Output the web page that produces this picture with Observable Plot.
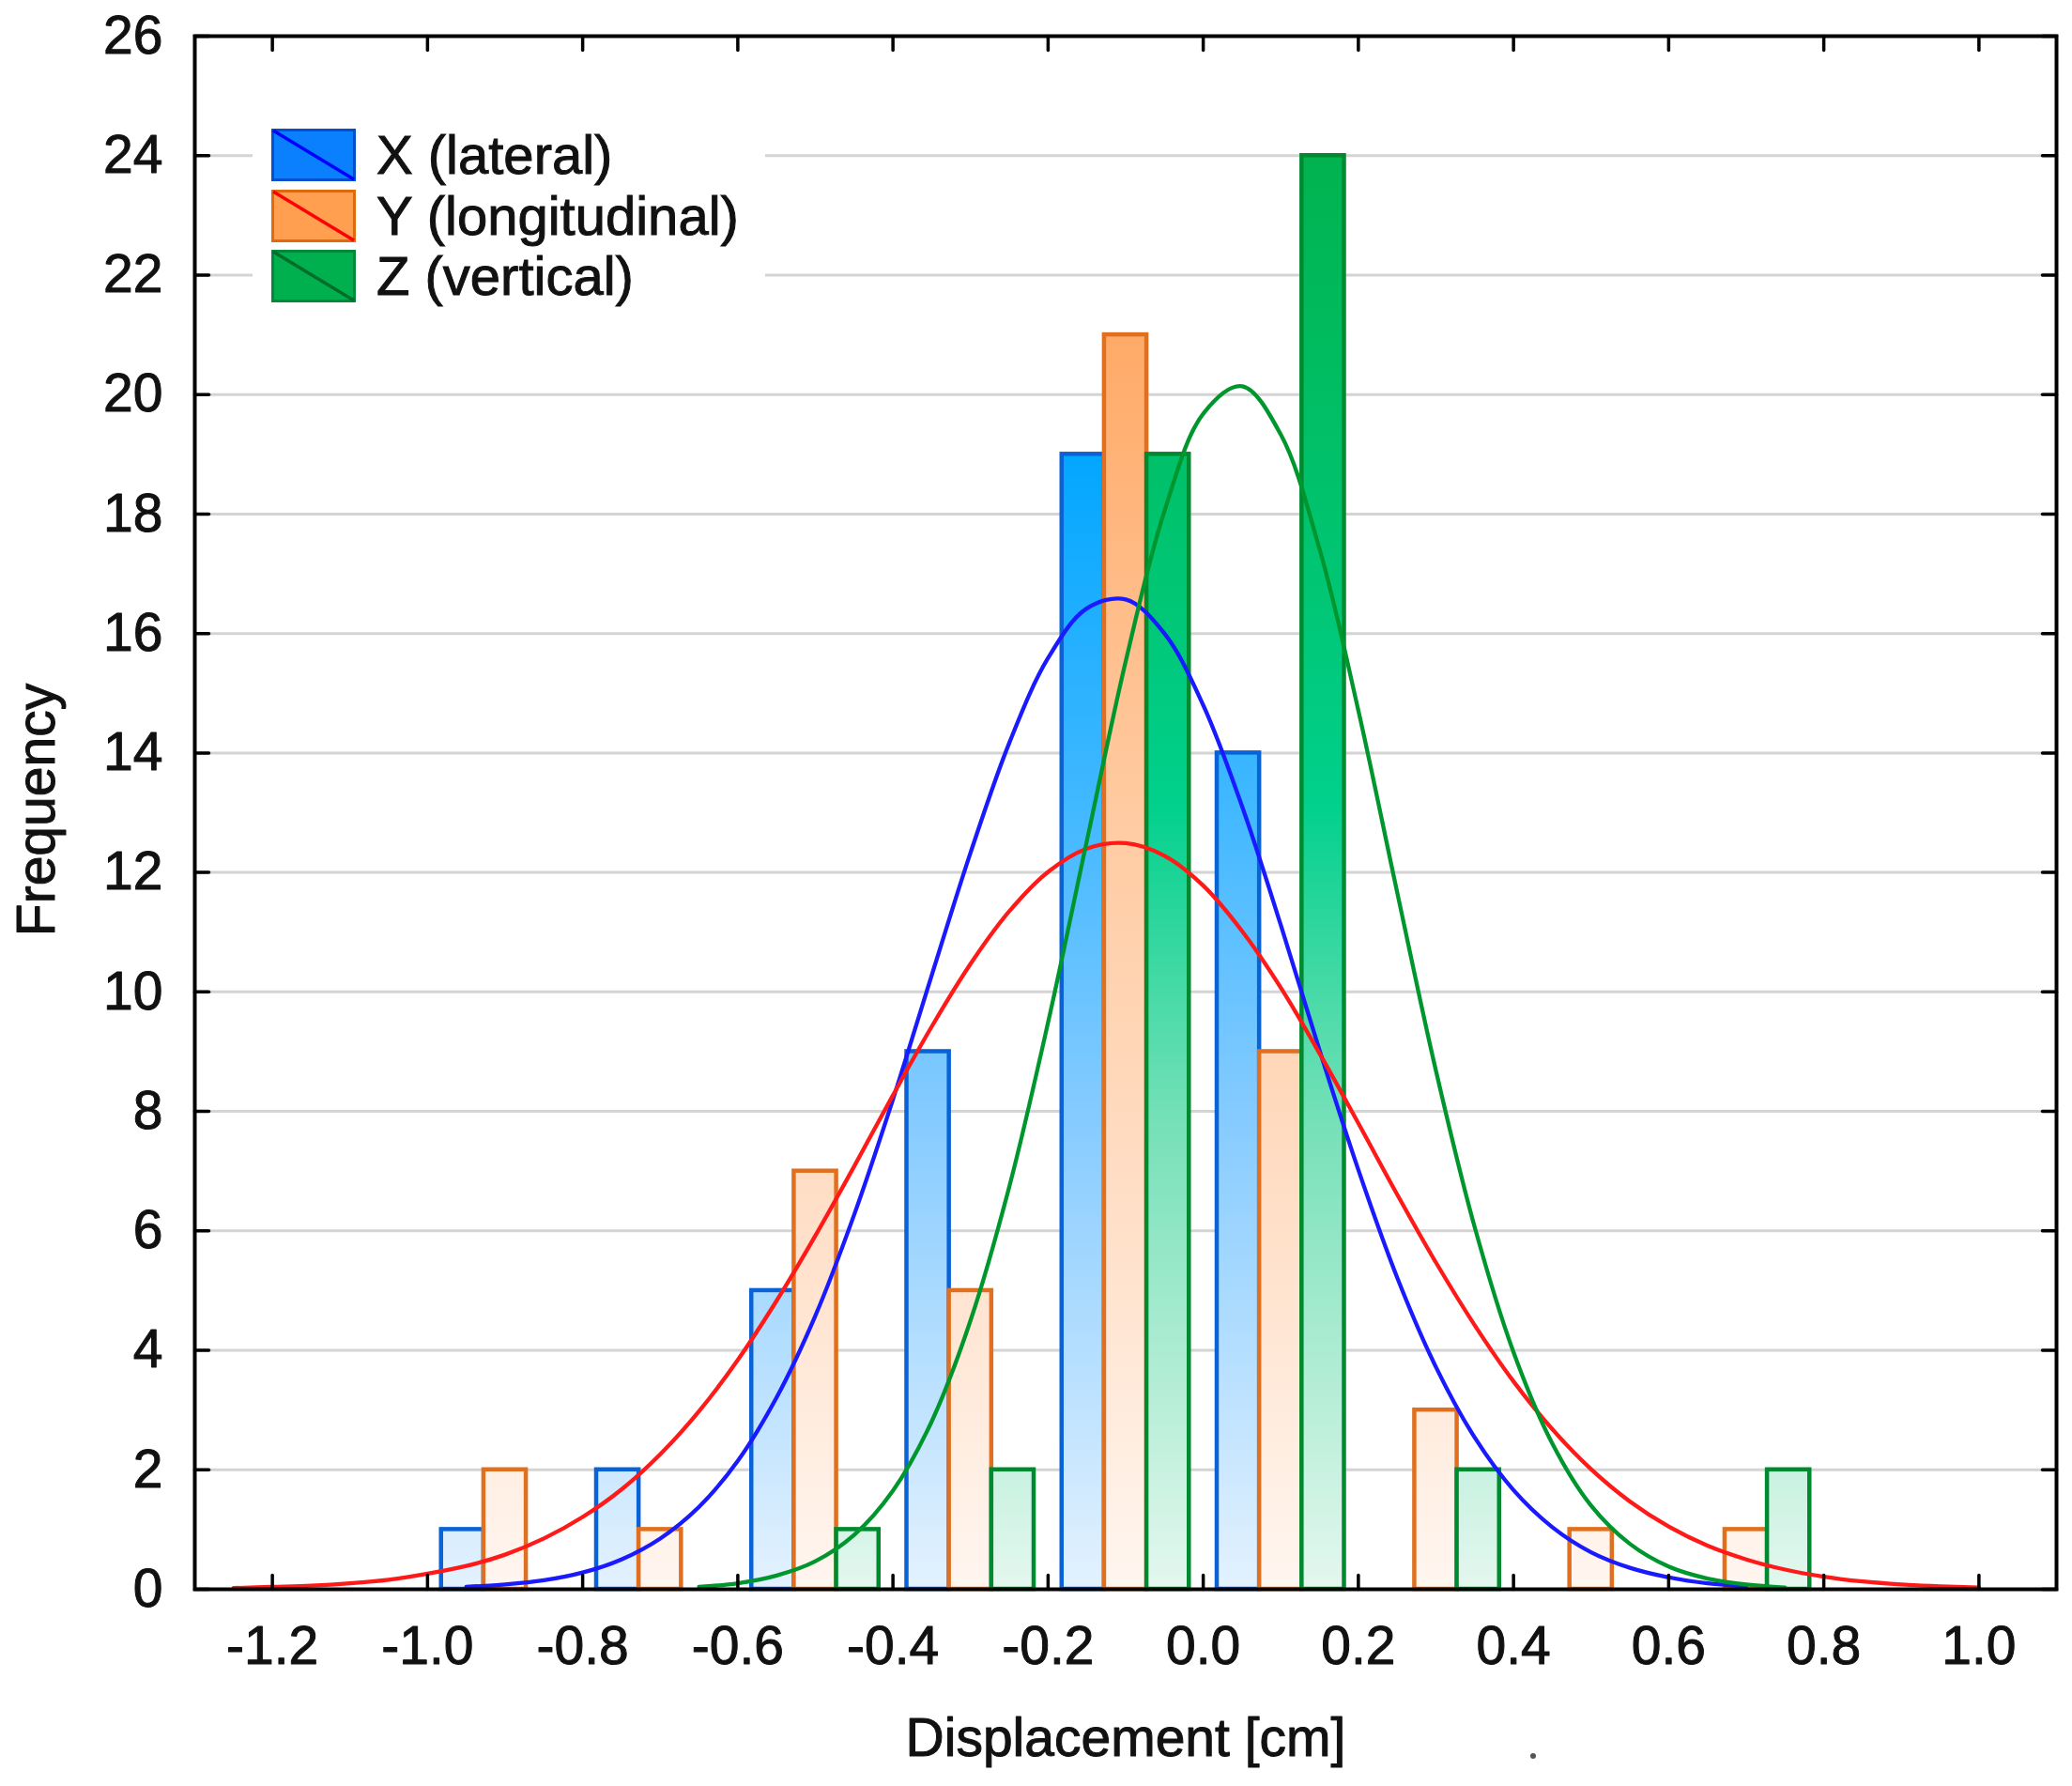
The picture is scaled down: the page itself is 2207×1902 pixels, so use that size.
<!DOCTYPE html>
<html><head><meta charset="utf-8">
<script src="https://cdn.jsdelivr.net/npm/d3@7"></script>
<script src="https://cdn.jsdelivr.net/npm/@observablehq/plot@0.6"></script>
<style>
body{margin:0;background:#fff;}
#wrap{position:relative;width:2207px;height:1902px;font-family:"Liberation Sans",Arial,sans-serif;}
#legend{position:absolute;left:269px;top:128px;width:546px;height:206px;background:#fff;}
.row{position:absolute;left:20px;height:56px;display:flex;align-items:center;}
.row svg{width:90px;height:56px;margin-right:22px;display:block}
.row span{font-size:58px;color:#111;line-height:1;white-space:nowrap;-webkit-text-stroke:1px #111;}
#speck{position:absolute;left:1630px;top:1867px;width:6px;height:6px;border-radius:3px;background:#555;}
</style></head>
<body><div id="wrap"><div id="chart"></div><div id="legend"></div><div id="speck"></div></div>
<script>
// ---- data ----
const binCenters = [-0.9, -0.7, -0.5, -0.3, -0.1, 0.1, 0.3, 0.5, 0.7];
const countsX = [1, 2, 5, 9, 19, 14, 0, 0, 0];
const countsY = [2, 1, 7, 5, 21, 9, 3, 1, 1];
const countsZ = [0, 0, 1, 2, 19, 24, 2, 0, 2];

const seriesNames = ["X (lateral)", "Y (longitudinal)", "Z (vertical)"];

const fitXx = [-0.95,-0.90,-0.85,-0.80,-0.75,-0.70,-0.65,-0.60,-0.55,-0.50,-0.45,-0.40,-0.35,-0.30,-0.25,-0.20,-0.15,-0.10,-0.05,0.00,0.05,0.10,0.15,0.20,0.25,0.30,0.35,0.40,0.45,0.50,0.55,0.60,0.65,0.70];
const fitXy = [0.04,0.08,0.15,0.28,0.50,0.85,1.38,2.15,3.21,4.58,6.27,8.20,10.28,12.33,14.17,15.59,16.42,16.57,16.00,14.80,13.11,11.12,9.02,7.02,5.22,3.72,2.54,1.66,1.04,0.62,0.36,0.20,0.10,0.05];

const fitYx = [-1.25,-1.20,-1.15,-1.10,-1.05,-1.00,-0.95,-0.90,-0.85,-0.80,-0.75,-0.70,-0.65,-0.60,-0.55,-0.50,-0.45,-0.40,-0.35,-0.30,-0.25,-0.20,-0.15,-0.10,-0.05,0.00,0.05,0.10,0.15,0.20,0.25,0.30,0.35,0.40,0.45,0.50,0.55,0.60,0.65,0.70,0.75,0.80,0.85,0.90,0.95,1.00];
const fitYy = [0.02,0.04,0.06,0.10,0.16,0.26,0.39,0.58,0.85,1.21,1.67,2.26,2.98,3.84,4.83,5.92,7.08,8.27,9.42,10.47,11.35,12.01,12.40,12.49,12.28,11.78,11.02,10.07,8.97,7.80,6.61,5.47,4.42,3.48,2.68,2.01,1.47,1.05,0.73,0.50,0.33,0.21,0.13,0.08,0.05,0.03];

const fitZx = [-0.65,-0.60,-0.55,-0.50,-0.45,-0.40,-0.35,-0.30,-0.25,-0.20,-0.15,-0.10,-0.05,0.00,0.05,0.10,0.15,0.20,0.25,0.30,0.35,0.40,0.45,0.50,0.55,0.60,0.65,0.70,0.75];
const fitZy = [0.04,0.10,0.23,0.47,0.91,1.65,2.81,4.50,6.74,9.49,12.53,15.53,18.05,19.68,20.14,19.33,17.41,14.71,11.67,8.68,6.06,3.97,2.44,1.40,0.76,0.38,0.18,0.08,0.03];

const xTicks = [-1.2, -1.0, -0.8, -0.6, -0.4, -0.2, 0.0, 0.2, 0.4, 0.6, 0.8, 1.0];
const yTicks = [0, 2, 4, 6, 8, 10, 12, 14, 16, 18, 20, 22, 24, 26];
const xDomain = [-1.3, 1.1];
const yDomain = [0, 26];

// ---- styles ----
const barW = 0.2 * 0.82 / 3;
const strokes = ["#0a63d6", "#e07020", "#008a30"];
const curveColors = ["#1a1aff", "#ff1a1a", "#00962e"];
const gradStops = [
  [[0, "#0090ff"], [0.2, "#00a6ff"], [0.45, "#40b8ff"], [0.67, "#85cbff"], [1, "#e4f2fe"]],
  [[0, "#ff9a4a"], [0.125, "#ffaa68"], [0.45, "#ffcaa0"], [0.7, "#ffdcc2"], [1, "#fff6f0"]],
  [[0, "#00b34f"], [0.3, "#00c674"], [0.45, "#00d08c"], [0.67, "#74e0b8"], [1, "#e4f7ee"]]
];
const legendFill = ["#0a80ff", "#ff9f4f", "#00b04f"];
const legendBorder = ["#0050d0", "#e06a10", "#008a3a"];
const legendDiag = ["#0000ff", "#ff0000", "#006e2a"];

const counts = [countsX, countsY, countsZ];
const barData = counts.map((arr, k) =>
  binCenters.map((c, i) => ({c, k, n: arr[i]})).filter(d => d.n > 0));
const fits = [[fitXx, fitXy], [fitYx, fitYy], [fitZx, fitZy]].map(([xs, ys]) => xs.map((x, i) => ({x, y: ys[i]})));
const gridVals = yTicks.filter(v => v > 0 && v < 26);

const tickShape = {draw(ctx, l) { ctx.moveTo(0, 0); ctx.lineTo(0, -l); }};
const FS = 57;
const txt = {fontSize: FS, fill: "#111", stroke: "#111", strokeWidth: 1};

const chart = Plot.plot({
  width: 2207, height: 1902,
  marginLeft: 207, marginRight: 17, marginTop: 38, marginBottom: 210,
  style: {fontFamily: '"Liberation Sans", Arial, sans-serif', fontSize: FS + "px", color: "#111", background: "#fff"},
  x: {domain: xDomain, axis: null},
  y: {domain: yDomain, axis: null},
  marks: [
    Plot.ruleY(gridVals, {stroke: "#d4d4d4", strokeWidth: 3}),
    ...barData.map((data, k) => Plot.rectY(data, {
      x1: d => d.c + (d.k - 1.5) * barW,
      x2: d => d.c + (d.k - 0.5) * barW,
      y1: 0, y2: "n",
      fill: `url(#grad${k})`, stroke: strokes[k], strokeWidth: 4.5
    })),
    ...fits.map((data, k) => Plot.line(data, {x: "x", y: "y", stroke: curveColors[k], strokeWidth: 4.3, curve: "catmull-rom"})),
    Plot.frame({stroke: "#000", strokeWidth: 4}),
    // inward ticks
    Plot.vector(xTicks, {x: d => d, y: yDomain[0], length: 15, rotate: 0, anchor: "start", shape: tickShape, stroke: "#000", strokeWidth: 3.5}),
    Plot.vector(xTicks, {x: d => d, y: yDomain[1], length: 15, rotate: 180, anchor: "start", shape: tickShape, stroke: "#000", strokeWidth: 3.5}),
    Plot.vector(yTicks, {x: xDomain[0], y: d => d, length: 15, rotate: 90, anchor: "start", shape: tickShape, stroke: "#000", strokeWidth: 3.5}),
    Plot.vector(yTicks, {x: xDomain[1], y: d => d, length: 15, rotate: -90, anchor: "start", shape: tickShape, stroke: "#000", strokeWidth: 3.5}),
    // tick labels
    Plot.text(xTicks, {x: d => d, frameAnchor: "bottom", dy: 61, lineAnchor: "middle", textAnchor: "middle", text: d => d.toFixed(1), ...txt}),
    Plot.text(yTicks, {y: d => d, frameAnchor: "left", dx: -34, textAnchor: "end", lineAnchor: "middle", text: d => String(d), ...txt}),
    // axis titles
    Plot.text(["Frequency"], {frameAnchor: "left", dx: -168, dy: -3, rotate: -90, textAnchor: "middle", lineAnchor: "middle", text: d => d, ...txt}),
    Plot.text(["Displacement [cm]"], {frameAnchor: "bottom", dy: 159, textAnchor: "middle", lineAnchor: "middle", text: d => d, ...txt})
  ]
});

// gradients in user space so short bars are pale, tall bars saturated
const ys = chart.scale("y");
const yTop = ys.apply(24), yBot = ys.apply(0);
const defs = d3.select(chart).insert("defs", ":first-child");
gradStops.forEach((stops, k) => {
  const g = defs.append("linearGradient").attr("id", `grad${k}`)
    .attr("gradientUnits", "userSpaceOnUse")
    .attr("x1", 0).attr("x2", 0).attr("y1", yTop).attr("y2", yBot);
  stops.forEach(([o, c]) => g.append("stop").attr("offset", o).attr("stop-color", c));
});
document.getElementById("chart").appendChild(chart);

// legend (inside plot area, white box)
const legend = document.getElementById("legend");
const rowTops = [9, 74, 138];
seriesNames.forEach((name, k) => {
  const row = document.createElement("div");
  row.className = "row";
  row.style.top = rowTops[k] + "px";
  row.innerHTML = `<svg viewBox="0 0 90 56"><rect x="1.5" y="1.5" width="87" height="53" fill="${legendFill[k]}" stroke="${legendBorder[k]}" stroke-width="3"/><line x1="2" y1="2" x2="88" y2="54" stroke="${legendDiag[k]}" stroke-width="3.5"/></svg><span>${name}</span>`;
  legend.appendChild(row);
});
</script>
</body></html>
